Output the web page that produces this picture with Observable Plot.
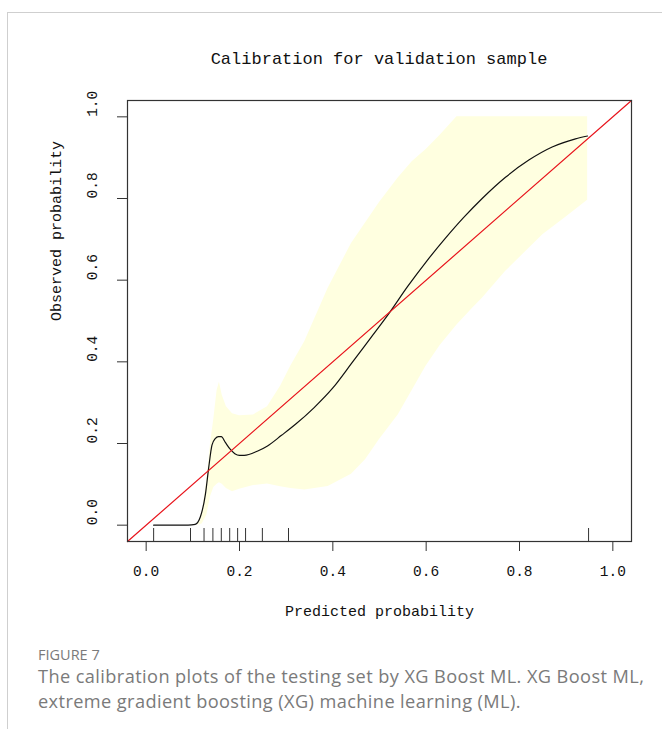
<!DOCTYPE html>
<html>
<head>
<meta charset="utf-8">
<script src="https://cdn.jsdelivr.net/npm/d3@7"></script>
<script src="https://cdn.jsdelivr.net/npm/@observablehq/plot@0.6"></script>
<style>
  html, body { margin: 0; padding: 0; background: #fff; }
  #page { position: relative; width: 662px; height: 729px; overflow: hidden; }
  #frame { position: absolute; left: 7px; top: 12px; right: -5px; bottom: -5px;
           border-top: 1px solid #cfcfcf; border-left: 1px solid #cfcfcf; }
  #title { position: absolute; top: 50px; left: 127px; width: 504px; text-align: center;
           font-family: "Liberation Mono", monospace; font-size: 17px; color: #111; white-space: nowrap; }
  #chart { position: absolute; left: 0; top: 0; }
  #fig { position: absolute; left: 38px; top: 646px; font-family: "Open Sans", sans-serif;
         font-size: 14.5px; line-height: 17px; color: #7a7a7a; }
  .cap { position: absolute; left: 38px; font-family: "Open Sans", sans-serif;
         font-size: 18.2px; letter-spacing: 0.4px; line-height: 22px; height: 22px; color: #7a7a7a; white-space: nowrap; }
</style>
</head>
<body>
<div id="page">
  <div id="frame"></div>
  <div id="chart"></div>
  <div id="title">Calibration for validation sample</div>
  <div id="fig">FIGURE 7</div>
  <div class="cap" style="top:665px">The calibration plots of the testing set by XG Boost ML. XG Boost ML,</div>
  <div class="cap" style="top:690px">extreme gradient boosting (XG) machine learning (ML).</div>
</div>
<script>
// ---- data ----
const titleText = "Calibration for validation sample";
const xTitle = "Predicted probability";
const yTitle = "Observed probability";
const xTicks = [0, 0.2, 0.4, 0.6, 0.8, 1.0];
const yTicks = [0, 0.2, 0.4, 0.6, 0.8, 1.0];
const axisDomain = [-0.04, 1.04];

// smoothed calibration curve (predicted, observed)
const curveX = [0.016, 0.09, 0.105, 0.116, 0.127, 0.134, 0.141, 0.148, 0.155, 0.161, 0.17, 0.18, 0.19, 0.2, 0.21, 0.238, 0.26, 0.29, 0.32, 0.36, 0.40, 0.44, 0.48, 0.52, 0.56, 0.60, 0.64, 0.68, 0.72, 0.77, 0.82, 0.87, 0.92, 0.946];
const curveY = [0, 0, 0.002, 0.02, 0.076, 0.141, 0.196, 0.212, 0.217, 0.217, 0.202, 0.186, 0.175, 0.171, 0.171, 0.181, 0.194, 0.220, 0.247, 0.288, 0.336, 0.396, 0.457, 0.518, 0.584, 0.645, 0.701, 0.753, 0.800, 0.852, 0.894, 0.926, 0.946, 0.953];

// confidence band
const bandX = [0.11, 0.12, 0.13, 0.138, 0.145, 0.152, 0.157, 0.163, 0.172, 0.185, 0.2, 0.23, 0.26, 0.288, 0.31, 0.34, 0.39, 0.44, 0.47, 0.50, 0.54, 0.57, 0.60, 0.63, 0.666, 0.70, 0.72, 0.77, 0.80, 0.85, 0.90, 0.946];
const bandLow = [0, 0.003, 0.025, 0.07, 0.092, 0.1, 0.104, 0.1, 0.09, 0.082, 0.088, 0.097, 0.101, 0.094, 0.09, 0.086, 0.095, 0.125, 0.16, 0.21, 0.27, 0.33, 0.39, 0.44, 0.49, 0.532, 0.555, 0.621, 0.655, 0.711, 0.755, 0.796];
const bandHigh = [0, 0.03, 0.11, 0.2, 0.26, 0.33, 0.35, 0.318, 0.29, 0.273, 0.268, 0.27, 0.29, 0.34, 0.39, 0.45, 0.58, 0.69, 0.74, 0.79, 0.85, 0.89, 0.92, 0.955, 1.0, 1.0, 1.0, 1.0, 1.0, 1.0, 1.0, 1.0];

// rug of predicted values
const rug = [0.016, 0.095, 0.124, 0.143, 0.161, 0.179, 0.196, 0.213, 0.249, 0.305, 0.948];

// ---- build tables ----
const curve = curveX.map((x, i) => ({x, y: curveY[i]}));
const band = bandX.map((x, i) => ({x, lo: bandLow[i], hi: bandHigh[i]}));
const diag = axisDomain.map(v => ({x: v, y: v}));

const mono = "Liberation Mono, monospace";
const fmt = d => d.toFixed(1);

const chart = Plot.plot({
  width: 662,
  height: 640,
  marginLeft: 127,
  marginRight: 31,
  marginTop: 100,
  marginBottom: 99,
  style: {fontFamily: mono, background: "transparent", color: "#111"},
  x: {domain: axisDomain},
  y: {domain: axisDomain},
  marks: [
    Plot.areaY(band, {x: "x", y1: "lo", y2: "hi", fill: "#ffffe0", fillOpacity: 1}),
    Plot.line(curve, {x: "x", y: "y", stroke: "#111", strokeWidth: 1.2, curve: "monotone-x"}),
    Plot.line(diag, {x: "x", y: "y", stroke: "#e8141c", strokeWidth: 1.2}),
    Plot.ruleX(rug, {x: d => d, insetTop: 428, stroke: "#333", strokeWidth: 1}),
    Plot.frame({stroke: "#333", strokeWidth: 1.2}),
    Plot.axisX({ticks: xTicks, tickSize: 10, tickPadding: 14, tickFormat: fmt, fontSize: 14.5, label: null, stroke: "#333"}),
    Plot.axisY({ticks: yTicks, tickSize: 10, tickFormat: () => "", label: null, stroke: "#333"}),
    Plot.text(yTicks, {y: d => d, text: fmt, frameAnchor: "left", dx: -35, rotate: -90, fontSize: 14.5, fill: "#111"}),
    Plot.text([xTitle], {text: d => d, frameAnchor: "bottom", dy: 74, fontSize: 15, fill: "#111"}),
    Plot.text([yTitle], {text: d => d, frameAnchor: "left", dx: -71, rotate: -90, fontSize: 15, fill: "#111"})
  ]
});
document.getElementById("chart").appendChild(chart);
</script>
</body>
</html>
